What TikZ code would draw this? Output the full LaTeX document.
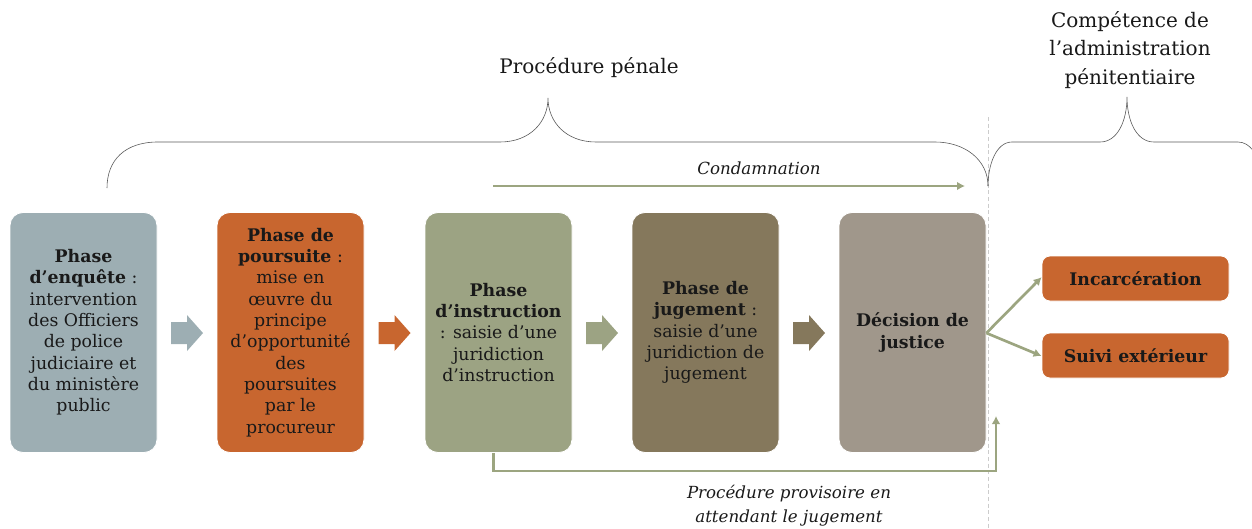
\documentclass[tikz,border=0pt]{standalone}
\usepackage{fontspec}
\setmainfont{DejaVu Serif}
\usetikzlibrary{arrows.meta}
\definecolor{enq}{RGB}{157,174,179}
\definecolor{ors}{RGB}{200,102,47}
\definecolor{ins}{RGB}{156,163,131}
\definecolor{jug}{RGB}{133,120,92}
\definecolor{dec}{RGB}{160,151,139}
\definecolor{txt}{RGB}{25,25,25}
\definecolor{brc}{RGB}{90,90,90}
\definecolor{garr}{RGB}{156,165,128}
\tikzset{
  phasebox/.style={rounded corners=9.75pt, minimum width=110.25pt, minimum height=180pt,
    align=center, font=\fontsize{13}{16}\selectfont, text=txt, inner sep=1pt, draw=white, line width=0.6pt},
  outbox/.style={rounded corners=6pt, minimum width=140.25pt, minimum height=33.75pt,
    font=\fontsize{13}{16}\selectfont\bfseries, text=txt, fill=ors, draw=white, line width=0.6pt},
  garrow/.style={draw=garr, line width=2pt, -{Latex[length=6pt,width=6.5pt]}},
  bracestyle/.style={draw=brc, line width=0.45pt},
  title/.style={font=\fontsize{15}{21.4}\selectfont, text=txt, align=center, inner sep=0pt},
  note/.style={font=\fontsize{12.5}{18}\selectfont\itshape, text=txt, align=center, inner sep=0pt}
}
\begin{document}
\begin{tikzpicture}[x=0.75pt,y=-0.75pt]
\useasboundingbox (0,0) rectangle (1252,528);
\clip (0,0) rectangle (1252,528);

% dashed separator
\draw[draw=black!20, dashed, dash pattern=on 3pt off 2pt, line width=0.5pt] (988,117) -- (988,528);

% boxes
\node[phasebox, fill=enq] (b1) at (83.5,332.5) {\textbf{Phase}\\\textbf{d’enquête} :\\intervention\\des Officiers\\de police\\judiciaire et\\du ministère\\public};
\node[phasebox, fill=ors] (b2) at (290.5,332.5) {\textbf{Phase de}\\\textbf{poursuite} :\\mise en\\œuvre du\\principe\\d’opportunité\\des\\poursuites\\par le\\procureur};
\node[phasebox, fill=ins] (b3) at (498.5,332.5) {\textbf{Phase}\\\textbf{d’instruction}\\: saisie d’une\\juridiction\\d’instruction};
\node[phasebox, fill=jug] (b4) at (705.5,332.5) {\textbf{Phase de}\\\textbf{jugement} :\\saisie d’une\\juridiction de\\jugement};
\node[phasebox, fill=dec] (b5) at (912.5,332.5) {\textbf{Décision de}\\\textbf{justice}};

\node[outbox] (inc) at (1135.5,278.5) {Incarcération};
\node[outbox] (sui) at (1135.5,355.5) {Suivi extérieur};

% block arrows between phases
\foreach \a/\b/\c in {b1/b2/enq, b2/b3/ors, b3/b4/ins, b4/b5/jug}{
  \path (\a.east) -- (\b.west) coordinate[midway] (m\a);
  \fill[\c] ([yshift=-0.4pt]m\a) ++(-16,-11) -- ++(16,0) -- ++(0,-7) -- ++(16,18) -- ++(-16,18) -- ++(0,-7) -- ++(-16,0) -- cycle;
}

% arrows to outcomes
\draw[garrow] ([yshift=-0.4pt]b5.east) -- ([yshift=1pt]inc.west);
\draw[garrow] ([yshift=-0.4pt]b5.east) -- ([yshift=-0.4pt]sui.west);

% Condamnation
\coordinate (c1) at (493,186);
\coordinate (c2) at (965,186);
\draw[garrow] (c1) -- (c2);
\node[note] (cond) at (759,168) {Condamnation};

% provisional procedure
\coordinate (corner) at (996,471);
\coordinate (pend) at (996,416);
\draw[garrow] ([xshift=-4pt]b3.south) |- (corner) -- (pend);
\node[note] (prov) at (789,506) {Procédure provisoire en\\attendant le jugement};

% braces
\draw[bracestyle] (107,188) .. controls (107,160) and (125,142) .. (158,142)
  -- (500,142) .. controls (530,142) and (548,122) .. (548,98)
  .. controls (548,122) and (566,142) .. (596,142)
  -- (935,142) .. controls (965,142) and (988,160) .. (988,186);
\draw[bracestyle] (988,186) .. controls (988,165) and (996,142) .. (1012,142)
  -- (1100,142) .. controls (1118,142) and (1127,120) .. (1127,97)
  .. controls (1127,120) and (1136,142) .. (1154,142)
  -- (1238,142) .. controls (1250,142) and (1258,155) .. (1262,170);

% titles
\node[title] (tpp) at (589,68) {Procédure pénale};
\node[title] (tap) at (1130,50) {Compétence de\\l’administration\\pénitentiaire};
\end{tikzpicture}
\end{document}
